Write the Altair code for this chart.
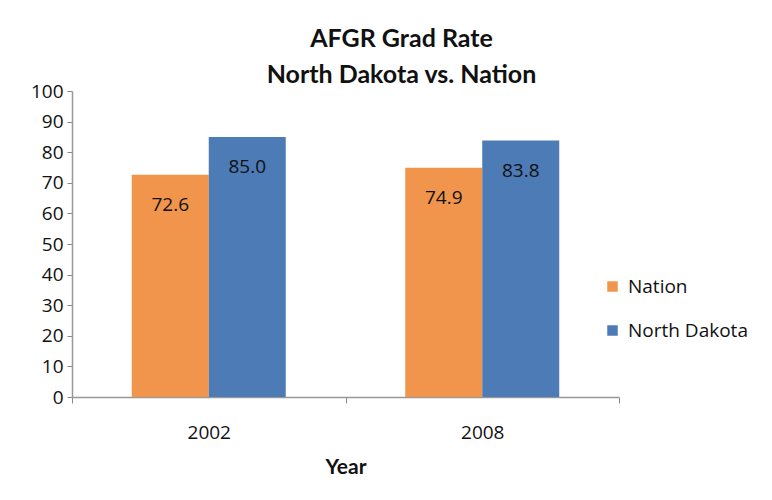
import altair as alt
import pandas as pd

years = ["2002", "2008"]
series = ["Nation", "North Dakota"]
nation = [72.6, 74.9]
north_dakota = [85.0, 83.8]
colors = ["#F0954B", "#4C7BB5"]
y_ticks = [0, 10, 20, 30, 40, 50, 60, 70, 80, 90, 100]

rows = []
for i, y in enumerate(years):
    rows.append({"Year": y, "Series": series[0], "Rate": nation[i]})
    rows.append({"Year": y, "Series": series[1], "Rate": north_dakota[i]})
df = pd.DataFrame(rows)

FONT = "Open Sans"
TFONT = "Lato"

x = alt.X("Year:N", title="Year",
          scale=alt.Scale(paddingInner=0, paddingOuter=0),
          axis=alt.Axis(labelAngle=0, tickBand="extent", labelFontSize=19, labelFont=FONT,
                        labelColor="#111", labelPadding=20, tickSize=6, tickColor="#888",
                        domainColor="#999", domainWidth=1.5, titleFont=TFONT, titleFontSize=21,
                        titleFontWeight="bold", titleColor="#111", titlePadding=14))
xo = alt.XOffset("Series:N", sort=series,
                 scale=alt.Scale(paddingInner=0, paddingOuter=0.776))
y = alt.Y("Rate:Q", title=None,
          scale=alt.Scale(domain=[0, 100], nice=False),
          axis=alt.Axis(values=y_ticks, labelOverlap=False,
                        grid=False, labelFontSize=19,
                        labelFont=FONT, labelColor="#111", tickSize=5, tickColor="#888",
                        domainColor="#999", domainWidth=1.5, labelPadding=4))

base = alt.Chart(df)

bars = base.mark_bar().encode(
    x=x, xOffset=xo, y=y,
    color=alt.Color("Series:N", sort=series,
                    scale=alt.Scale(domain=series, range=colors),
                    legend=alt.Legend(title=None, orient="none", legendX=531, legendY=186,
                                      symbolType="square", symbolSize=110, symbolStrokeWidth=0,
                                      labelFontSize=19, labelFont=FONT, labelColor="#111",
                                      rowPadding=24, labelOffset=6)),
)

labels = base.mark_text(baseline="middle", dy=30, fontSize=19, font=FONT, color="#111").encode(
    x=x, xOffset=xo, y=y, text=alt.Text("Rate:Q", format=".1f"),
)

chart = (bars + labels).properties(
    width=547, height=306,
    padding={"left": 64, "top": 83, "right": 136, "bottom": 90},
    autosize=alt.AutoSizeParams(type="none"),
    title=alt.TitleParams(["AFGR Grad Rate", "North Dakota vs. Nation"], fontSize=25,
                          font=TFONT, fontWeight="bold", color="#111", lineHeight=36,
                          anchor="middle", dx=56, offset=-6),
).configure_view(stroke=None)

chart.save("out.html", embed_options={"renderer": "svg", "actions": False})
